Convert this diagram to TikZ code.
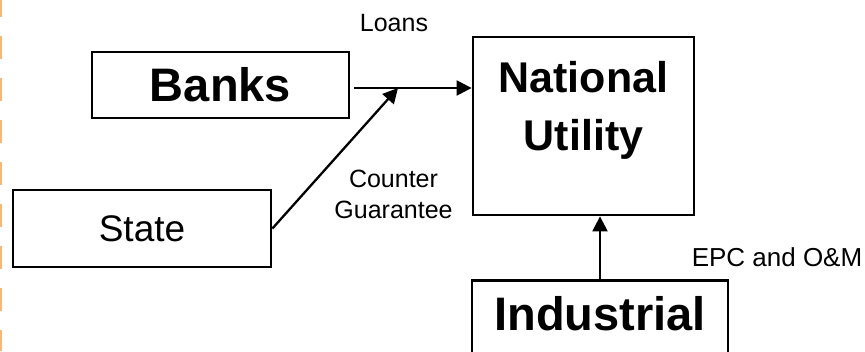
\documentclass[tikz,border=0pt]{standalone}
\usepackage{fontspec}
\setmainfont{Liberation Sans}
\usetikzlibrary{arrows.meta,calc}
\definecolor{edgeorange}{RGB}{247,183,120}
\begin{document}
\begin{tikzpicture}[x=1pt,y=-1pt,
  box/.style={draw=black, line width=2.8pt, inner sep=0pt},
  arr/.style={line width=2.3pt, -{Triangle[length=15pt,width=15pt]}},
  bigb/.style={font=\fontsize{47}{56}\selectfont\bfseries},
  lbl/.style={font=\fontsize{25}{31}\selectfont, inner sep=0pt}]
\useasboundingbox (0,0) rectangle (865,351);
\draw[edgeorange, line width=2pt, dash pattern=on 23pt off 19pt, dash phase=6pt] (1,0) -- (1,351);
\node[box, bigb, minimum width=257pt, minimum height=66pt] (banks) at (220.5,85) {Banks};
\node[box, font=\fontsize{37}{44}\selectfont, minimum width=258pt, minimum height=77pt] (state) at (142,228.5) {State};
\node[box, minimum width=221pt, minimum height=178pt] (nu) at (583.5,126) {};
\node[font=\fontsize{43}{58}\selectfont\bfseries, align=center, inner sep=0pt] (nutext) at (583.5,110) {National\\Utility};
\node[box, bigb, anchor=north, minimum width=256pt, inner ysep=0pt, text height=50pt, text depth=42pt] (ind) at (600,279) {Industrial};
\coordinate (j) at (398,88);
\coordinate (ls) at ($(banks.east|-j)+(4,0)$);
\draw[arr] (ls) -- (j -| nu.west);
\draw[arr] (state.east) -- (j);
\draw[arr] (ind.north) -- (ind.north |- nu.south);
\node[lbl, anchor=base] (loans) at (394,31.5) {Loans};
\node[lbl, align=center] (cg) at (393.5,194) {Counter\\Guarantee};
\node[lbl, anchor=base, font=\fontsize{26}{31}\selectfont] (epc) at (777,266) {EPC and O\&M};
\end{tikzpicture}
\end{document}
